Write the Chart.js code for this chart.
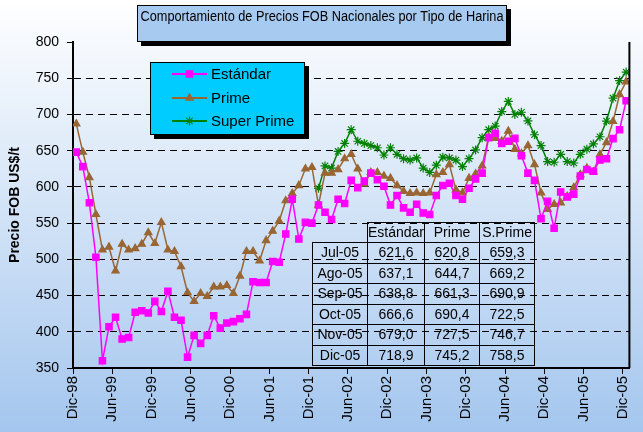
<!DOCTYPE html>
<html>
<head>
<meta charset="utf-8">
<script src="https://cdn.jsdelivr.net/npm/chart.js@4.4.1/dist/chart.umd.min.js"></script>
<style>
html, body { margin: 0; padding: 0; background: #fff; }
#wrap { position: relative; width: 643px; height: 432px; overflow: hidden; }
#chart { position: absolute; left: 0; top: 0; }
#tbl { position: absolute; left: 312px; top: 222px; border-collapse: collapse; table-layout: fixed;
       font-family: 'Liberation Sans Narrow', 'Liberation Sans', Arial, sans-serif; font-size: 14px; color: #000; }
#tbl td { border: 1px solid #000; padding: 0; height: 19.5px; line-height: 19px; text-align: center; white-space: nowrap; }
#tbl tr.head td { height: 19px; }
#tbl td.blank { border: none; }
</style>
</head>
<body>
<div id="wrap">
<canvas id="chart" width="643" height="432"></canvas>
<table id="tbl"></table>
</div>
<script>
var chartTitle = 'Comportamiento de Precios FOB Nacionales por Tipo de Harina';
var axisTitle = 'Precio FOB US$/t';

// one label every 6 months, Dic-98 .. Dic-05
var tickLabels = ['Dic-98', 'Jun-99', 'Dic-99', 'Jun-00', 'Dic-00', 'Jun-01', 'Dic-01', 'Jun-02',
                  'Dic-02', 'Jun-03', 'Dic-03', 'Jun-04', 'Dic-04', 'Jun-05', 'Dic-05'];
var yTicks = [350, 400, 450, 500, 550, 600, 650, 700, 750, 800];

// monthly prices, Dic-98 .. Dic-05 (85 months), one row = Dic .. Nov
var estandar = [
    648, 628, 578, 503, 360, 407, 420, 390, 392, 427, 429, 426,
    442, 428, 456, 420, 416, 365, 395, 384, 395, 422, 405, 412,
    414, 418, 424, 469, 468, 468, 497, 496, 535, 583, 528, 551,
    550, 575, 565, 555, 583, 577, 609, 599, 608, 619, 610, 601,
    575, 588, 571, 565, 576, 564, 562, 588, 602, 605, 588, 583,
    598, 611, 619, 668, 674, 660, 663, 667, 643, 619, 609, 556,
    580, 543, 593, 586, 590, 615, 624, 621.6, 637.1, 638.8, 666.6, 679.0,
    718.9
];
var prime = [
    687, 648, 613, 562, 513, 517, 484, 521, 513, 515, 521, 537,
    522, 551, 513, 511, 490, 454, 442, 453, 449, 462, 462, 464,
    453, 477, 511, 511, 498, 526, 539, 553, 581, 591, 602, 625,
    627, 575, 619, 619, 624, 639, 645, 625, 604, 620, 620, 615,
    612, 602, 594, 591, 592, 591, 592, 617, 620, 631, 596, 592,
    612, 618, 629, 669, 667, 663, 677, 652, 646, 657, 631, 592,
    569, 576, 578, 587, 599, 617, 626, 620.8, 644.7, 661.3, 690.4, 727.5,
    745.2
];
var superPrime = [
    null, null, null, null, null, null, null, null, null, null, null, null,
    null, null, null, null, null, null, null, null, null, null, null, null,
    null, null, null, null, null, null, null, null, null, null, null, null,
    null, 598, 629, 626, 649, 660, 679, 663, 660, 657, 654, 644,
    654, 645, 639, 637, 640, 626, 620, 630, 641, 640, 637, 628,
    639, 651, 668, 679, 684, 704, 718, 700, 703, 691, 672, 657,
    635, 634, 645, 635, 633, 645, 652, 659.3, 669.2, 690.9, 722.5, 746.7,
    758.5
];

// inset table: last six months
var tableMonths = ['Jul-05', 'Ago-05', 'Sep-05', 'Oct-05', 'Nov-05', 'Dic-05'];
var tableCols = ['Estándar', 'Prime', 'S.Prime'];

var narrow = "'Liberation Sans Narrow', 'Liberation Sans', Arial, sans-serif";
var regular = "'Liberation Sans', Arial, sans-serif";

function series(label, values, color, marker, radius) {
    var pts = [];
    values.forEach(function (v, i) {
        if (v !== null) pts.push({ x: i, y: v });
    });
    return {
        label: label,
        data: pts,
        borderColor: color,
        backgroundColor: color,
        borderWidth: 1.5,
        pointStyle: marker,
        pointRadius: radius,
        pointBorderWidth: 1.2,
        pointBackgroundColor: color,
        pointBorderColor: color,
        tension: 0
    };
}

function shadowBox(c, x, y, w, h, fill) {
    c.fillStyle = '#000';
    c.fillRect(x + 4, y + 4, w, h);
    c.fillStyle = fill;
    c.fillRect(x, y, w, h);
    c.strokeStyle = '#000';
    c.lineWidth = 1;
    c.strokeRect(x + 0.5, y + 0.5, w - 1, h - 1);
}

var decor = {
    id: 'decor',
    beforeDraw: function (chart) {
        var c = chart.ctx;
        var g = c.createLinearGradient(0, 0, 0, chart.height);
        g.addColorStop(0, '#ffffff');
        g.addColorStop(1, '#a4c6ee');
        c.save();
        c.fillStyle = g;
        c.fillRect(0, 0, chart.width, chart.height);
        c.restore();
    },
    afterDraw: function (chart) {
        var c = chart.ctx;
        var a = chart.chartArea;
        c.save();
        // right edge of plot area
        c.strokeStyle = '#000';
        c.lineWidth = 2;
        c.beginPath();
        c.moveTo(a.right, a.top);
        c.lineTo(a.right, a.bottom);
        c.stroke();

        // title box
        shadowBox(c, 137, 5, 370, 37, '#a6caf0');
        c.fillStyle = '#000';
        c.font = '14px ' + regular;
        c.textAlign = 'center';
        c.textBaseline = 'middle';
        c.fillText(chartTitle, 322, 17, 363);

        // legend box
        shadowBox(c, 150, 62, 155, 73, '#00ccff');
        var rows = [74, 98, 121];
        chart.data.datasets.forEach(function (ds, i) {
            var y = rows[i];
            c.strokeStyle = ds.borderColor;
            c.lineWidth = 2;
            c.beginPath();
            c.moveTo(172, y);
            c.lineTo(207, y);
            c.stroke();
            c.fillStyle = ds.pointBackgroundColor;
            c.strokeStyle = ds.pointBorderColor;
            c.lineWidth = ds.pointBorderWidth;
            Chart.helpers.drawPoint(c, { pointStyle: ds.pointStyle, radius: ds.pointRadius, rotation: 0, borderWidth: ds.pointBorderWidth }, 189.5, y);
            c.fillStyle = '#000';
            c.font = '15px ' + regular;
            c.textAlign = 'left';
            c.fillText(ds.label, 211, y + 1);
        });
        c.restore();
    }
};

var chart = new Chart(document.getElementById('chart'), {
    type: 'line',
    data: {
        datasets: [
            series('Estándar', estandar, '#ff00ff', 'rect', 4.5),
            series('Prime', prime, '#996633', 'triangle', 4.2),
            series('Super Prime', superPrime, '#008000', 'star', 4.5)
        ]
    },
    options: {
        responsive: false,
        animation: false,
        devicePixelRatio: 1,
        layout: { padding: { left: 0, top: 42, right: 12, bottom: 0 } },
        plugins: {
            legend: { display: false },
            tooltip: { enabled: false },
            title: { display: false }
        },
        scales: {
            x: {
                type: 'linear',
                min: -0.5,
                max: 84.5,
                afterBuildTicks: function (s) {
                    s.ticks = tickLabels.map(function (t, k) { return { value: k * 6 - 0.5 }; });
                },
                afterFit: function (s) { s.height = 64; },
                grid: { drawOnChartArea: false, color: '#000', tickColor: '#000', tickLength: 6, tickWidth: 1 },
                border: { color: '#000', width: 2 },
                ticks: {
                    autoSkip: false,
                    minRotation: 90,
                    maxRotation: 90,
                    padding: 2,
                    color: '#000',
                    font: { family: regular, size: 15 },
                    callback: function (v, k) { return tickLabels[k]; }
                }
            },
            y: {
                min: 350,
                max: 800,
                afterBuildTicks: function (s) {
                    s.ticks = yTicks.map(function (v) { return { value: v }; });
                },
                afterFit: function (s) { s.width = 73; },
                grid: {
                    color: function (c) {
                        return (c.tick && (c.tick.value === 800 || c.tick.value === 350)) ? 'rgba(0,0,0,0)' : '#000';
                    },
                    lineWidth: 1,
                    tickColor: '#000',
                    tickLength: 6,
                    tickWidth: 1,
                    tickBorderDash: []
                },
                border: { color: '#000', width: 2, dash: [7, 5] },
                ticks: { padding: 8, color: '#000', font: { family: narrow, size: 14 } },
                title: {
                    display: true,
                    text: axisTitle,
                    color: '#000',
                    font: { family: regular, size: 14, weight: 'bold' },
                    padding: { top: 7, bottom: 0 }
                }
            }
        }
    },
    plugins: [decor]
});

// inset table from the series' last six values
function fmt(v) { return v.toFixed(1).replace('.', ','); }
var n = estandar.length;
var html = '<colgroup><col style="width:55px"><col style="width:56px"><col style="width:55px"><col style="width:55px"></colgroup>';
html += '<tr class="head"><td class="blank"></td>' + tableCols.map(function (t) { return '<td>' + t + '</td>'; }).join('') + '</tr>';
tableMonths.forEach(function (m, r) {
    var k = n - tableMonths.length + r;
    html += '<tr><td>' + m + '</td><td>' + fmt(estandar[k]) + '</td><td>' + fmt(prime[k]) + '</td><td>' + fmt(superPrime[k]) + '</td></tr>';
});
document.getElementById('tbl').innerHTML = html;
</script>
</body>
</html>
